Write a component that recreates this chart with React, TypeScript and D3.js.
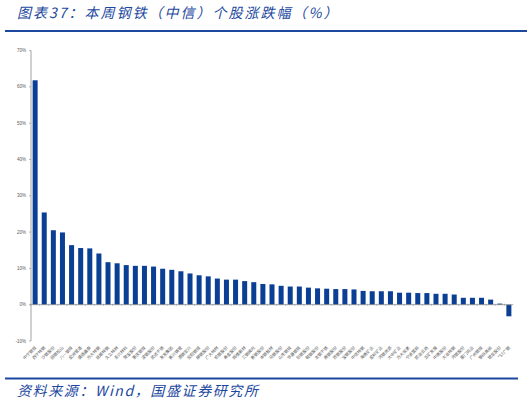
import React from "react";
import * as d3 from "d3";

const titleText = "图表37：本周钢铁（中信）个股涨跌幅（%）";
const sourceText = "资料来源：Wind，国盛证券研究所";

const stocks = [
  "中宁钢铁", "西宁特钢", "沙钢股份", "韶钢松山", "八一钢铁", "金洲管道", "盛德鑫泰", "方大特钢",
  "抚顺特钢", "久立特材", "永兴材料", "常宝股份", "重庆钢铁", "凌钢股份", "武进不锈", "友发集团",
  "新兴铸管", "酒钢宏兴", "安阳钢铁", "柳钢股份", "广大特材", "杭钢股份", "甬金股份", "翔楼新材",
  "三钢闽光", "新钢股份", "本钢板材", "马钢股份", "山东钢铁", "华菱钢铁", "包钢股份", "鞍钢股份",
  "太钢不锈", "南钢股份", "首钢股份", "宝钢股份", "中信特钢", "海南矿业", "金岭矿业", "河钢资源",
  "大中矿业", "方大炭素", "宁波富邦", "欧冶云商", "五矿发展", "中南股份", "大冶特钢", "河钢股份",
  "厦门钨业", "广州钢铁", "钢研高纳", "银龙股份", "*ST广钢",
];

const changes = [
  61.8, 25.4, 20.5, 19.9, 16.4, 15.6, 15.5, 14.1,
  11.7, 11.4, 10.9, 10.7, 10.7, 10.5, 9.9, 9.6,
  9.2, 8.6, 8.1, 7.8, 7.2, 6.9, 6.9, 6.5,
  6.2, 5.7, 5.6, 5.2, 5.0, 5.0, 4.7, 4.5,
  4.4, 4.3, 4.3, 4.2, 3.8, 3.7, 3.7, 3.7,
  3.3, 3.3, 3.2, 3.2, 3.0, 3.0, 2.8, 1.9,
  1.9, 1.9, 1.4, 0.3, -3.2,
];

const yTicks = [70, 60, 50, 40, 30, 20, 10, 0, -10];

const W = 532;
const H = 403;
const BLUE = "#1c48a0";
const BAR = "#0b3f94";
const GREY = "#8c8c8c";
const TXT = "#595959";

export default function App() {
  const x = d3
    .scaleBand<string>()
    .domain(stocks)
    .range([30.8, 513.2])
    .paddingInner(0.45)
    .paddingOuter(0.2);
  const y = d3.scaleLinear().domain([-10, 70]).range([341, 50.5]);
  const y0 = y(0);
  const bw = x.bandwidth();

  return (
    <svg
      width={W}
      height={H}
      viewBox={`0 0 ${W} ${H}`}
      style={{ position: "absolute", left: 0, top: 0, background: "#fff" }}
    >
      <rect x={0} y={0} width={W} height={H} fill="#fff" />
      {/* title */}
      <text
        x={17}
        y={18}
        fontFamily="'Noto Sans CJK SC', sans-serif"
        fontSize={14}
        fontStyle="italic"
        letterSpacing={2}
        fill={BLUE}
      >
        {titleText}
      </text>
      <rect x={5} y={30} width={522} height={2} fill={BLUE} />

      {/* y axis */}
      <line x1={31} x2={31} y1={y(70)} y2={y(-10)} stroke={GREY} strokeWidth={0.8} />
      {yTicks.map((t) => (
        <g key={t}>
          <line x1={29} x2={31} y1={y(t)} y2={y(t)} stroke={GREY} strokeWidth={0.6} />
          <text
            x={26}
            y={y(t)}
            dy="0.35em"
            textAnchor="end"
            fontFamily="'Liberation Sans', Arial, sans-serif"
            fontSize={4.5}
            fill={TXT}
          >
            {`${t}%`}
          </text>
        </g>
      ))}

      {/* bars */}
      {stocks.map((s, i) => {
        const v = changes[i];
        return (
          <rect
            key={s}
            x={x(s)}
            y={Math.min(y(v), y0)}
            width={bw}
            height={Math.abs(y(v) - y0)}
            fill={BAR}
          />
        );
      })}

      {/* zero line with category ticks */}
      <line x1={31} x2={513.2} y1={y0} y2={y0} stroke={GREY} strokeWidth={0.8} />
      {stocks.map((s) => {
        const cx = (x(s) as number) - (x.step() - bw) / 2;
        return <line key={"t" + s} x1={cx} x2={cx} y1={y0 - 1} y2={y0 + 1} stroke={GREY} strokeWidth={0.6} />;
      })}

      {/* category labels */}
      {stocks.map((s) => {
        const cx = (x(s) as number) + bw / 2 + 1.5;
        const ly = y(-10) + 7;
        return (
          <text
            key={"l" + s}
            transform={`translate(${cx},${ly}) rotate(-45)`}
            textAnchor="end"
            fontFamily="'Noto Sans CJK SC', sans-serif"
            fontSize={4.2}
            fill={TXT}
          >
            {s}
          </text>
        );
      })}

      {/* footer */}
      <rect x={5} y={377.5} width={513} height={2} fill={BLUE} />
      <text
        x={17}
        y={396}
        fontFamily="'Noto Sans CJK SC', sans-serif"
        fontSize={14}
        fontStyle="italic"
        letterSpacing={1.6}
        fill={BLUE}
      >
        {sourceText}
      </text>
    </svg>
  );
}
